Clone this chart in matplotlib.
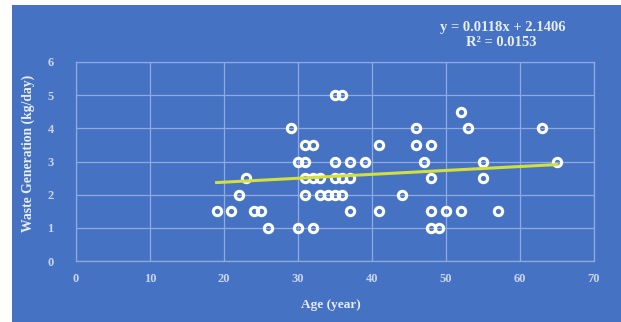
import numpy as np
import matplotlib.pyplot as plt
from matplotlib.patches import Rectangle

# 年龄与每日垃圾产生量
age = [19, 21, 24, 25, 37, 41, 48, 50, 52, 57,
       26, 30, 32, 48, 49,
       22, 31, 33, 34, 35, 36, 44,
       23, 31, 32, 33, 35, 36, 37, 48, 55,
       30, 31, 35, 37, 39, 47, 55, 65,
       31, 32, 41, 46, 48,
       29, 46, 53, 63,
       52,
       35, 36]
waste = [1.5] * 10 + [1.0] * 5 + [2.0] * 7 + [2.5] * 9 + [3.0] * 8 + \
        [3.5] * 5 + [4.0] * 4 + [4.5] * 1 + [5.0] * 2

# 趋势线参数
slope = 0.0118
intercept = 2.1406
r2 = 0.0153

bg = '#4672c4'
grid_c = '#8eaade'
tick_c = '#c8d4ee'
text_c = '#e8eef9'
font = 'Liberation Serif'

fig = plt.figure(figsize=(6.21, 3.22), dpi=100)
fig.patch.set_facecolor('white')
# 蓝色背景区域
fig.patches.append(Rectangle((12 / 621, 0), 1 - 12 / 621, 1 - 5 / 322,
                             transform=fig.transFigure, facecolor=bg,
                             edgecolor='none', zorder=-10))

ax = fig.add_axes([76 / 621, 1 - 261 / 322, 518 / 621, 199 / 322])
ax.set_zorder(1)
ax.set_facecolor(bg)
ax.set_xlim(0, 70)
ax.set_ylim(0, 6)
ax.set_xticks(range(0, 71, 10))
ax.set_yticks(range(0, 7))
ax.grid(True, color=grid_c, linewidth=0.9)
ax.set_axisbelow(True)
for s in ax.spines.values():
    s.set_color(grid_c)
    s.set_linewidth(0.9)
ax.tick_params(length=0, colors=tick_c, labelsize=9)
ax.tick_params(axis='y', pad=16)
ax.tick_params(axis='x', pad=9)
for lab in ax.get_xticklabels() + ax.get_yticklabels():
    lab.set_fontfamily(font)
    lab.set_fontweight('bold')

# 散点
ax.plot(age, waste, 'o', ms=6.0, mfc='none', mec='white', mew=2.2, zorder=3)

# 线性趋势线
xs = np.array([min(age), max(age)])
ax.plot(xs, slope * xs + intercept, color='#d4e03a', lw=2.2, zorder=4)

ax.set_xlabel('Age (year)', family=font, weight='bold', fontsize=9.5, color=text_c)
ax.set_ylabel('Waste Generation (kg/day)', family=font, weight='bold',
              fontsize=9.8, color=text_c)
ax.xaxis.set_label_coords(0.492, -0.19)
ax.yaxis.set_label_coords(-0.079, 0.54)

fig.text(503 / 621, 1 - 27 / 322, f'y = {slope}x + {intercept}', ha='center',
         va='center', family=font, weight='bold', fontsize=10.5, color=text_c,
         zorder=2)
fig.text(501 / 621, 1 - 43 / 322, f'R² = {r2}', ha='center',
         va='center', family=font, weight='bold', fontsize=10.5, color=text_c,
         zorder=2)

fig.savefig('out.png', dpi=100, facecolor=fig.get_facecolor())
